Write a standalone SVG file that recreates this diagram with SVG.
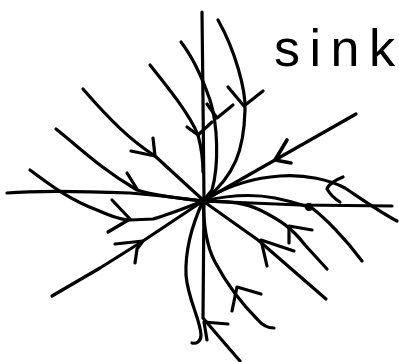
<svg xmlns="http://www.w3.org/2000/svg" width="399" height="362" viewBox="0 0 399 362">
<style>
.t{fill:none;stroke:#000;stroke-width:3.2;stroke-linecap:round;stroke-linejoin:round}
.a{fill:none;stroke:#000;stroke-width:3.2;stroke-linecap:round;stroke-linejoin:round}
.lbl{font-family:"Liberation Sans",Arial,sans-serif;font-size:52px;fill:#000}
</style>
<rect width="399" height="362" fill="#fff"/>
<g id="trajectories">
<path class="t" d="M202,12 L203,100 L204,200 L203,318 Q220,338 240,361"/>
<path class="t" d="M218,20 C235,50 246,90 245,110 C244,150 235,175 205,200"/>
<path class="t" d="M181,42 C195,60 203,80 210,100 C218,125 219,165 212,190 L204,200"/>
<path class="t" d="M150,65 C170,90 190,115 198,135 C202,150 203,160 203,172"/>
<path class="t" d="M83,89 C110,120 130,140 155,156 L203,200"/>
<path class="t" d="M56,129 C80,148 100,168 137,190 C160,197 185,199 203,201"/>
<path class="t" d="M7,193 C40,190 80,191 130,193 C160,195 185,199 203,201"/>
<path class="t" d="M30,170 C50,185 70,200 97,210 C115,218 125,220 130,220 L153,219 C170,214 190,206 203,201"/>
<path class="t" d="M52,296 L100,268 L143,241 L203,201"/>
<path class="t" d="M203,201 C192,225 185,250 186,275 C188,300 200,318 201,335 C201,342 196,344 192,343"/>
<path class="t" d="M203,201 C204,225 206,245 215,262 C230,290 250,312 258,320 C263,326 268,328 274,328"/>
<path class="t" d="M203,201 L258,240 L326,299"/>
<path class="t" d="M203,201 C220,202 240,200 260,210 C280,220 292,228 305,245 L327,269"/>
<path class="t" d="M203,201 C225,196 250,193 275,198 C295,202 305,206 312,208 C325,218 345,238 362,261"/>
<path class="t" d="M203,201 L300,205 L392,206"/>
<path class="t" d="M207,198 C225,188 250,178 280,176 C305,174 330,180 345,188 C360,198 380,212 397,221"/>
<path class="t" d="M356,114 L275,160 L203,201"/>
<circle cx="309" cy="207" r="4" fill="#000"/>
<circle cx="203" cy="201" r="3.5" fill="#000"/>
</g>
<g id="arrowheads">
<path class="a" d="M228,87 L244,106 L263,91"/>
<path class="a" d="M207,104 L217,118 L233,105"/>
<path class="a" d="M187,127 L198,135 L212,122"/>
<path class="a" d="M131,151 L155,156 L153,138"/>
<path class="a" d="M127,173 L137,189"/>
<path class="a" d="M112,200 L130,219 L108,232"/>
<path class="a" d="M115,244 L143,241 L137,249 L135,263"/>
<path class="a" d="M232,311 L237,287 L261,294"/>
<path class="a" d="M267,266 L261,240 L294,251"/>
<path class="a" d="M289,243 L289,226 L312,230"/>
<path class="a" d="M343,177 C335,180 328,185 327,189 C330,194 335,199 340,202"/>
<path class="a" d="M287,140 L275,160 L291,163" style="stroke-width:3.6"/>
<path class="a" d="M228,324 L204,322 L207,340"/>
</g>
<g id="label">
<text class="lbl" x="274" y="66" textLength="121" lengthAdjust="spacing">sink</text>
</g>
</svg>
